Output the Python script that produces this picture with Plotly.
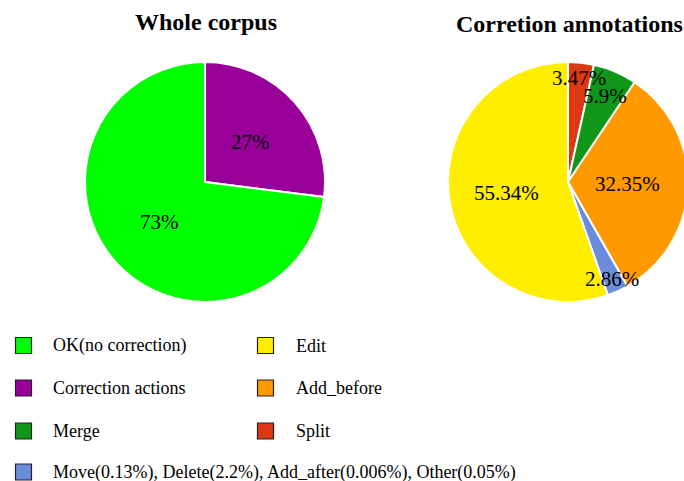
import math
import plotly.graph_objects as go

W, H = 692, 481  # slightly wider than the window so the right pie is clipped like the reference

# ---- data ----
left_title = "Whole corpus"
left_labels = ["Correction actions", "OK(no correction)"]
left_values = [27, 73]
left_text = ["27%", "73%"]
left_colors = ["#990099", "#00FF00"]

right_title = "Corretion annotations"
right_labels = ["Split", "Merge", "Add_before", "Other", "Edit"]
right_values = [3.47, 5.9, 32.35, 2.86, 55.34]
right_text = ["3.47%", "5.9%", "32.35%", "2.86%", "55.34%"]
right_colors = ["#DC3912", "#109618", "#FF9900", "#6A8CDA", "#FFEE00"]

legend_col1 = ["OK(no correction)", "Correction actions", "Merge",
               "Move(0.13%), Delete(2.2%), Add_after(0.006%), Other(0.05%)"]
legend_col1_colors = ["#00FF00", "#990099", "#109618", "#6A8CDA"]
legend_col2 = ["Edit", "Add_before", "Split"]
legend_col2_colors = ["#FFEE00", "#FF9900", "#DC3912"]

# label radial distance (fraction of radius)
left_label_r = [0.5, 0.5]
right_label_r = [0.87, 0.78, 0.5, 0.89, 0.52]

FONT = "Liberation Serif"

# pie geometry (window pixels)
L_dom_x = [85, 325]
R_dom_x = [448, 688]
dom_y = [62, 302]  # from top


def px(x):
    return x / W


def py(y):
    return 1 - y / H


def to_dom(dx, dy):
    return dict(x=[max(0, px(dx[0])), min(1, px(dx[1]))], y=[py(dy[1]), py(dy[0])])


fig = go.Figure()
fig.add_trace(go.Pie(
    labels=left_labels, values=left_values, sort=False, direction="clockwise",
    rotation=0, marker=dict(colors=left_colors, line=dict(color="white", width=2)),
    textinfo="none", hoverinfo="label+percent", domain=to_dom(L_dom_x, dom_y),
    showlegend=False))
fig.add_trace(go.Pie(
    labels=right_labels, values=right_values, sort=False, direction="clockwise",
    rotation=0, marker=dict(colors=right_colors, line=dict(color="white", width=2)),
    textinfo="none", hoverinfo="label+percent", domain=to_dom(R_dom_x, dom_y),
    showlegend=False))

annotations = []
shapes = []


def pie_labels(values, texts, rfrac, domx):
    cx = (domx[0] + domx[1]) / 2
    cy = (dom_y[0] + dom_y[1]) / 2
    R = min(domx[1] - domx[0], dom_y[1] - dom_y[0]) / 2
    total = sum(values)
    cum = 0
    for v, t, rf in zip(values, texts, rfrac):
        mid = 90 - (cum + v / 2) / total * 360
        cum += v
        a = math.radians(mid)
        x = cx + rf * R * math.cos(a)
        y = cy - rf * R * math.sin(a)
        annotations.append(dict(x=px(x), y=py(y), xref="paper", yref="paper",
                                text=t, showarrow=False,
                                font=dict(family=FONT, size=21, color="black"),
                                xanchor="center", yanchor="middle"))


pie_labels(left_values, left_text, left_label_r, L_dom_x)
pie_labels(right_values, right_text, right_label_r, R_dom_x)

annotations.append(dict(x=px(206), y=py(22), xref="paper", yref="paper",
                        text="<b>%s</b>" % left_title, showarrow=False,
                        font=dict(family=FONT, size=24, color="black"),
                        xanchor="center", yanchor="middle"))
annotations.append(dict(x=px(454), y=py(24), xref="paper", yref="paper",
                        text="<b>%s</b>" % right_title, showarrow=False,
                        font=dict(family=FONT, size=24, color="black"),
                        xanchor="left", yanchor="middle"))

# custom legend
row_y = [345.5, 388, 431, 472]


def legend_items(names, colors, sq_x, txt_x):
    for i, (n, c) in enumerate(zip(names, colors)):
        y = row_y[i]
        shapes.append(dict(type="rect", xref="paper", yref="paper",
                           x0=px(sq_x), x1=px(sq_x + 16),
                           y0=py(y + 8), y1=py(y - 8),
                           fillcolor=c, line=dict(color="#222222", width=1.2)))
        annotations.append(dict(x=px(txt_x), y=py(y), xref="paper", yref="paper",
                                text=n, showarrow=False,
                                font=dict(family=FONT, size=18, color="black"),
                                xanchor="left", yanchor="middle"))


legend_items(legend_col1, legend_col1_colors, 15.5, 51)
legend_items(legend_col2, legend_col2_colors, 257.5, 294)

fig.update_layout(width=W, height=H, margin=dict(l=0, r=0, t=0, b=0),
                  paper_bgcolor="white", plot_bgcolor="white",
                  annotations=annotations, shapes=shapes, showlegend=False)
fig.write_html(
    "out.html",
    config={"displayModeBar": False},
    post_script="document.body.style.margin='0';"
                "document.documentElement.style.overflow='hidden';"
                "document.body.style.overflow='hidden';")
